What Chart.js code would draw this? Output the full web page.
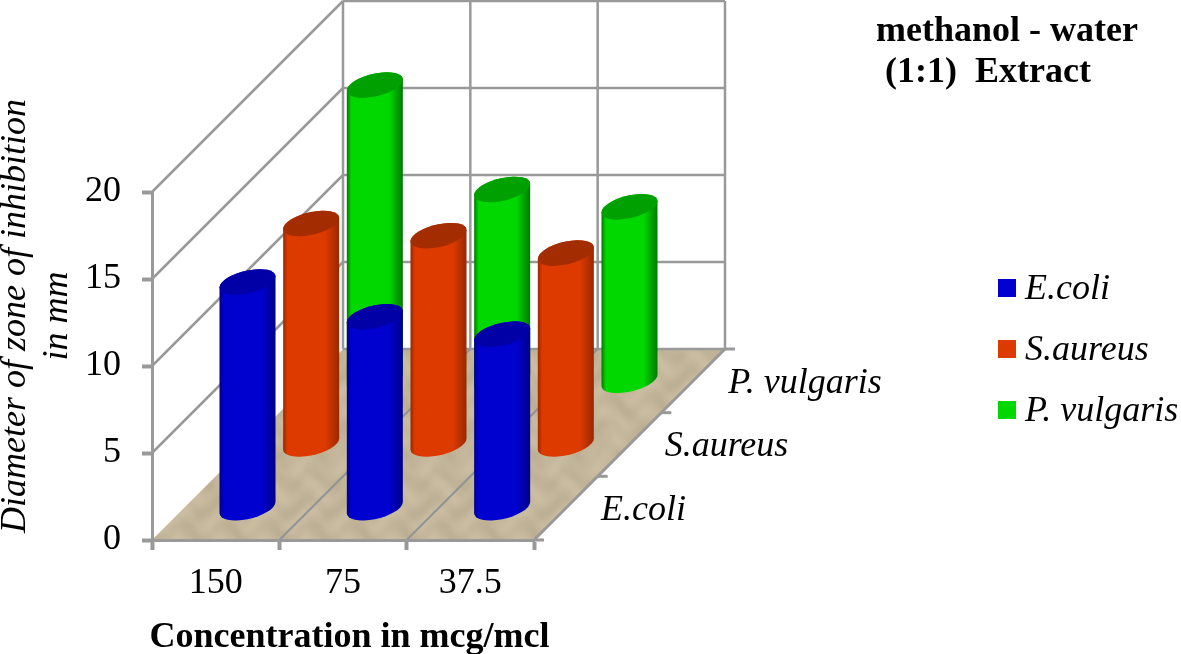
<!DOCTYPE html>
<html lang="en">
<head>
    <meta charset="UTF-8">
    <title>methanol - water (1:1) Extract</title>
    <script src="https://cdn.jsdelivr.net/npm/chart.js@4/dist/chart.umd.js"></script>
    <style>
        body { margin: 0; background: #fff; }
        canvas { display: block; }
    </style>
</head>
<body>
    <canvas id="chart" width="1181" height="654"></canvas>
    <script>
        // chart values
        const concentrations = ["150", "75", "37.5"];
        const ecoli = [13, 11, 10];
        const saureus = [12.7, 12, 11];
        const pvulgaris = [17, 11, 10];
        const seriesNames = ["E.coli", "S.aureus", "P. vulgaris"];
        const yTicks = [0, 5, 10, 15, 20];
        const titleLines = ["methanol - water", "(1:1)  Extract"];
        const yTitleLines = ["Diameter of zone of inhibition", "in mm"];
        const xTitle = "Concentration in mcg/mcl";

        const serif = "'Liberation Serif', 'Times New Roman', serif";
        const gridColor = "#999999";
        const depthX = 191, depthY = 191; // how far the back wall sits from the front axis
        const rowCount = seriesNames.length;

        // cylinder in place of the flat bar, sheared to follow the floor
        class Cylinder extends Chart.BarElement {
            static id = "cylinder";
            static defaults = { row: 0, capColor: "#000", edgeColor: "#000" };

            draw(ctx) {
                const o = this.options;
                const r = this.width / 2;
                const ry = 11.5;
                const shift = (o.row + 0.5) / rowCount;
                const cx = this.x + depthX * shift;
                const top = this.y - depthY * shift;
                const base = this.base - depthY * shift;

                ctx.save();
                ctx.transform(1, -0.2, 0, 1, cx, 0);

                const body = ctx.createLinearGradient(-r, 0, r, 0);
                body.addColorStop(0, o.edgeColor);
                body.addColorStop(0.08, o.backgroundColor);
                body.addColorStop(0.75, o.backgroundColor);
                body.addColorStop(1, o.edgeColor);

                ctx.beginPath();
                ctx.moveTo(-r, top);
                ctx.lineTo(-r, base);
                ctx.ellipse(0, base, r, ry, 0, Math.PI, 0, true);
                ctx.lineTo(r, top);
                ctx.ellipse(0, top, r, ry, 0, 0, Math.PI, true);
                ctx.closePath();
                ctx.fillStyle = body;
                ctx.fill();

                ctx.beginPath();
                ctx.ellipse(0, top, r, ry, 0, 0, Math.PI * 2);
                ctx.fillStyle = o.capColor;
                ctx.fill();
                ctx.restore();
            }
        }

        class CylinderController extends Chart.BarController {
            static id = "cylinder";
            static defaults = { dataElementType: "cylinder" };
        }

        Chart.register(Cylinder, CylinderController);

        function line(ctx, x1, y1, x2, y2) {
            ctx.beginPath();
            ctx.moveTo(x1, y1);
            ctx.lineTo(x2, y2);
            ctx.stroke();
        }

        // mottled sand colour for the floor
        function floorPattern(ctx) {
            const tile = document.createElement("canvas");
            tile.width = tile.height = 128;
            const t = tile.getContext("2d");
            const img = t.createImageData(128, 128);
            for (let py = 0; py < 128; py++) {
                for (let px = 0; px < 128; px++) {
                    const a = px / 128 * Math.PI * 2, b = py / 128 * Math.PI * 2;
                    const d = 4 * Math.sin(3 * a + 2 * Math.sin(2 * b)) + 3 * Math.sin(5 * b + 2 * Math.sin(3 * a));
                    const i = (py * 128 + px) * 4;
                    img.data[i] = 196 + d;
                    img.data[i + 1] = 182 + d;
                    img.data[i + 2] = 154 + d;
                    img.data[i + 3] = 255;
                }
            }
            t.putImageData(img, 0, 0);
            return ctx.createPattern(tile, "repeat");
        }

        // floor and the two walls behind the cylinders
        const room = {
            id: "room",
            beforeDraw(chart) {
                const ctx = chart.ctx;
                const { x, y } = chart.scales;
                const left = x.left, right = x.right, bottom = y.bottom;
                const step = (right - left) / concentrations.length;

                ctx.save();
                ctx.fillStyle = floorPattern(ctx);
                ctx.beginPath();
                ctx.moveTo(left, bottom);
                ctx.lineTo(right, bottom);
                ctx.lineTo(right + depthX, bottom - depthY);
                ctx.lineTo(left + depthX, bottom - depthY);
                ctx.closePath();
                ctx.fill();

                ctx.strokeStyle = gridColor;
                ctx.lineWidth = 2.5;
                yTicks.forEach(function(v) {
                    const py = y.getPixelForValue(v);
                    if (v > 0) line(ctx, left, py, left + depthX, py - depthY);
                    line(ctx, left + depthX, py - depthY, right + depthX, py - depthY);
                });
                for (let i = 0; i <= concentrations.length; i++) {
                    const px = left + step * i + depthX;
                    line(ctx, px, y.top - depthY, px, bottom - depthY);
                }

                // lines across the floor and the depth axis with its ticks
                ctx.strokeStyle = "#8f9496";
                ctx.lineWidth = 2;
                for (let i = 1; i < concentrations.length; i++) {
                    line(ctx, left + step * i, bottom, left + step * i + depthX, bottom - depthY);
                }
                ctx.strokeStyle = gridColor;
                ctx.lineWidth = 3;
                line(ctx, right, bottom, right + depthX, bottom - depthY);
                for (let i = 0; i <= rowCount; i++) {
                    const px = right + depthX * i / rowCount;
                    const py = bottom - depthY * i / rowCount;
                    line(ctx, px, py, px + 10, py);
                }
                ctx.restore();
            }
        };

        // titles, depth labels and legend
        const labels = {
            id: "labels",
            afterDraw(chart) {
                const ctx = chart.ctx;
                const { x, y } = chart.scales;
                ctx.save();
                ctx.fillStyle = "#000";
                ctx.textBaseline = "alphabetic";
                ctx.textAlign = "left";

                ctx.font = "bold 36px " + serif;
                ctx.fillText(titleLines[0], 876, 41);
                ctx.fillText(titleLines[1], 885, 82);

                ctx.textAlign = "center";
                ctx.fillText(xTitle, 349.5, 647);

                ctx.font = "italic 36px " + serif;
                ctx.save();
                ctx.translate(25, 316);
                ctx.rotate(-Math.PI / 2);
                ctx.fillText(yTitleLines[0], 0, 0);
                ctx.fillText(yTitleLines[1], 0, 42);
                ctx.restore();

                // names along the depth axis
                ctx.textAlign = "left";
                seriesNames.forEach(function(name, i) {
                    const shift = i / rowCount;
                    ctx.fillText(name, x.right + 67 + depthX * shift, y.bottom - 20 - depthY * shift);
                });

                // legend
                chart.data.datasets.forEach(function(ds, i) {
                    const rowY = 279 + i * 61;
                    ctx.fillStyle = ds.backgroundColor;
                    ctx.fillRect(998, rowY, 18, 18);
                    ctx.fillStyle = "#000";
                    ctx.fillText(ds.label, 1025, rowY + 20);
                });
                ctx.restore();
            }
        };

        function makeSeries(name, values, row, color, capColor, edgeColor) {
            return {
                label: name,
                data: values,
                row: row,
                backgroundColor: color,
                capColor: capColor,
                edgeColor: edgeColor,
                grouped: false,
                barPercentage: 0.44,
                categoryPercentage: 1,
                clip: false
            };
        }

        new Chart(document.getElementById("chart"), {
            type: "cylinder",
            data: {
                labels: concentrations,
                datasets: [
                    makeSeries(seriesNames[0], ecoli, 0, "#0000cf", "#0000a6", "#000088"),
                    makeSeries(seriesNames[1], saureus, 1, "#dd3a00", "#a32c00", "#9a2800"),
                    makeSeries(seriesNames[2], pvulgaris, 2, "#00d800", "#00a000", "#007a00")
                ]
            },
            options: {
                responsive: false,
                animation: false,
                layout: { padding: { top: 192, right: 647, bottom: 0, left: 0 } },
                plugins: { legend: { display: false }, title: { display: false }, tooltip: { enabled: false } },
                scales: {
                    x: {
                        afterFit: function(scale) { scale.height = 114; },
                        grid: { drawOnChartArea: false, tickLength: 10, tickColor: gridColor, tickWidth: 4 },
                        border: { color: gridColor, width: 3 },
                        ticks: { color: "#000", padding: 12, maxRotation: 0, font: { family: serif, size: 36 } }
                    },
                    y: {
                        min: 0,
                        max: 20,
                        afterFit: function(scale) { scale.width = 152; },
                        afterBuildTicks: function(scale) { scale.ticks = yTicks.map(function(v) { return { value: v }; }); },
                        grid: { drawOnChartArea: false, tickLength: 10, tickColor: gridColor, tickWidth: 4 },
                        border: { color: gridColor, width: 3 },
                        ticks: { color: "#000", padding: 21, font: { family: serif, size: 36 } }
                    }
                }
            },
            plugins: [room, labels]
        });
    </script>
</body>
</html>
